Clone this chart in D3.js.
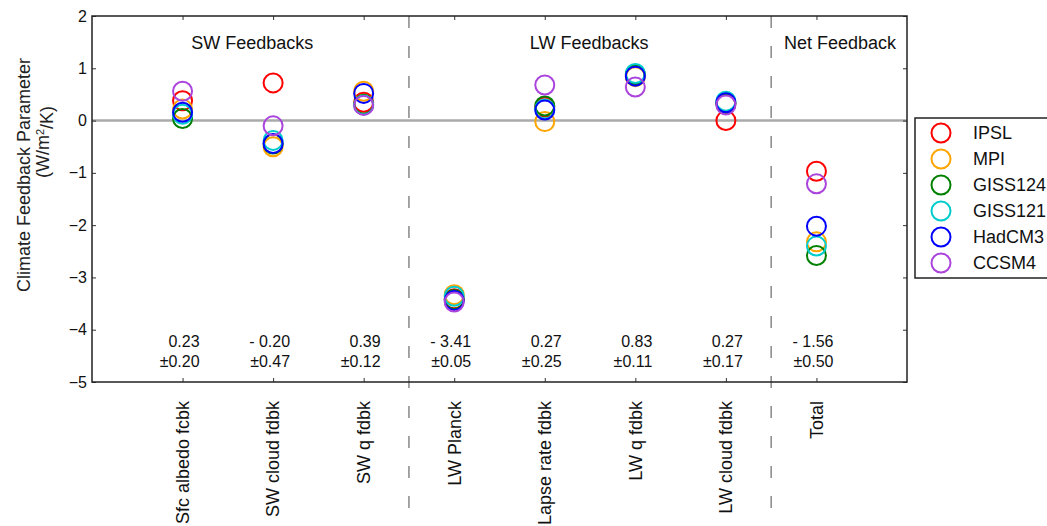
<!DOCTYPE html>
<html>
<head>
<meta charset="utf-8">
<script src="https://cdn.jsdelivr.net/npm/d3@7"></script>
<style>
  html, body { margin: 0; padding: 0; background: #fff; }
  svg { display: block; font-family: "Liberation Sans", Arial, sans-serif; }
</style>
</head>
<body>
<svg id="chart" width="1047" height="526"></svg>
<script>
const categories = ["Sfc albedo fcbk", "SW cloud fdbk", "SW q fdbk", "LW Planck",
                    "Lapse rate fdbk", "LW q fdbk", "LW cloud fdbk", "Total"];
const models = ["IPSL", "MPI", "GISS124", "GISS121", "HadCM3", "CCSM4"];
const modelColors = ["#ff0000", "#ffa500", "#008000", "#00cccc", "#0000ff", "#aa44dd"];

const IPSL    = [0.38,  0.72, 0.35, -3.41,  0.26, 0.87, 0.00, -0.97];
const MPI     = [0.22, -0.50, 0.56, -3.33, -0.02, 0.84, 0.32, -2.32];
const GISS124 = [0.04, -0.45, 0.31, -3.42,  0.28, 0.88, 0.32, -2.58];
const GISS121 = [0.12, -0.38, 0.30, -3.36,  0.22, 0.90, 0.37, -2.40];
const HadCM3  = [0.16, -0.44, 0.52, -3.44,  0.20, 0.85, 0.34, -2.02];
const CCSM4   = [0.56, -0.10, 0.29, -3.47,  0.68, 0.64, 0.30, -1.21];
const seriesValues = [IPSL, MPI, GISS124, GISS121, HadCM3, CCSM4];

const meanLabels   = ["0.23", "- 0.20", "0.39", "- 3.41", "0.27", "0.83", "0.27", "- 1.56"];
const spreadLabels = ["±0.20", "±0.47", "±0.12", "±0.05", "±0.25", "±0.11", "±0.17", "±0.50"];
const groupLabels  = ["SW Feedbacks", "LW Feedbacks", "Net Feedback"];
const groupCenters = [1.77, 5.49, 8.26];
const dividers     = [3.5, 7.5];
const yTicks       = [2, 1, 0, -1, -2, -3, -4, -5];

const svg = d3.select("#chart");
const L = 92, R = 907, T = 16, B = 382;

const x = d3.scaleLinear().domain([0, 9]).range([L, R]);
const y = d3.scaleLinear().domain([-5, 2]).range([B, T]);
const fmt = v => (v < 0 ? "\u2212" + Math.abs(v) : String(v));

// zero line
svg.append("line")
  .attr("x1", L).attr("x2", R).attr("y1", y(0)).attr("y2", y(0))
  .attr("stroke", "#aaaaaa").attr("stroke-width", 2.5);

// dashed dividers
svg.selectAll("line.div").data(dividers).enter().append("line")
  .attr("class", "div")
  .attr("x1", d => x(d)).attr("x2", d => x(d))
  .attr("y1", T).attr("y2", 526)
  .attr("stroke", "#888").attr("stroke-width", 1.5)
  .attr("stroke-dasharray", "12,18");

// axes (ticks inward)
const catTicks = d3.range(1, categories.length + 1);
svg.append("g").attr("transform", `translate(0,${B})`)
  .call(d3.axisTop(x).tickValues(catTicks).tickFormat("").tickSizeInner(4).tickSizeOuter(0))
  .call(g => g.select(".domain").remove())
  .call(g => g.selectAll("line").attr("stroke", "#333"));
svg.append("g").attr("transform", `translate(0,${T})`)
  .call(d3.axisBottom(x).tickValues(catTicks).tickFormat("").tickSizeInner(4).tickSizeOuter(0))
  .call(g => g.select(".domain").remove())
  .call(g => g.selectAll("line").attr("stroke", "#333"));
svg.append("g").attr("transform", `translate(${L},0)`)
  .call(d3.axisRight(y).tickValues(yTicks).tickFormat("").tickSizeInner(4).tickSizeOuter(0))
  .call(g => g.select(".domain").remove())
  .call(g => g.selectAll("line").attr("stroke", "#333"));
svg.append("g").attr("transform", `translate(${R},0)`)
  .call(d3.axisLeft(y).tickValues(yTicks).tickFormat("").tickSizeInner(4).tickSizeOuter(0))
  .call(g => g.select(".domain").remove())
  .call(g => g.selectAll("line").attr("stroke", "#333"));

// y tick labels
svg.selectAll("text.ytick").data(yTicks).enter().append("text")
  .attr("class", "ytick")
  .attr("x", L - 5).attr("y", d => y(d)).attr("dy", "0.35em")
  .attr("text-anchor", "end").attr("font-size", 16).attr("fill", "#111")
  .text(fmt);

// frame
svg.append("rect")
  .attr("x", L).attr("y", T).attr("width", R - L).attr("height", B - T)
  .attr("fill", "none").attr("stroke", "#222").attr("stroke-width", 1.5);

// y axis label
svg.append("text")
  .attr("transform", `translate(24,175) rotate(-90)`)
  .attr("text-anchor", "middle").attr("dy", "0.35em").attr("font-size", 18).attr("fill", "#222")
  .text("Climate Feedback Parameter");
const unit = svg.append("text")
  .attr("transform", `translate(43,142) rotate(-90)`)
  .attr("text-anchor", "middle").attr("dy", "0.35em").attr("font-size", 18).attr("fill", "#222");
unit.append("tspan").text("(W/m");
unit.append("tspan").attr("font-size", 11).attr("dy", "-0.5em").text("2");
unit.append("tspan").attr("dy", "0.5em").text("/K)");

// group labels
svg.selectAll("text.grp").data(groupLabels).enter().append("text")
  .attr("class", "grp")
  .attr("x", (d, i) => x(groupCenters[i])).attr("y", 49)
  .attr("text-anchor", "middle").attr("font-size", 18).attr("fill", "#111")
  .text(d => d);

// mean / spread labels
svg.selectAll("text.mean").data(meanLabels).enter().append("text")
  .attr("class", "mean")
  .attr("x", (d, i) => x(i + 1) + 17).attr("y", 347)
  .attr("text-anchor", "end").attr("font-size", 16).attr("fill", "#111")
  .text(d => d);
svg.selectAll("text.spread").data(spreadLabels).enter().append("text")
  .attr("class", "spread")
  .attr("x", (d, i) => x(i + 1) + 17).attr("y", 367)
  .attr("text-anchor", "end").attr("font-size", 16).attr("fill", "#111")
  .text(d => d);

// category labels
svg.selectAll("text.cat").data(categories).enter().append("text")
  .attr("class", "cat")
  .attr("transform", (d, i) => `translate(${x(i + 1)},401) rotate(-90)`)
  .attr("text-anchor", "end").attr("dy", "0.35em").attr("font-size", 18).attr("fill", "#111")
  .text(d => d);

// points
models.forEach((m, mi) => {
  svg.append("g").selectAll("circle").data(seriesValues[mi]).enter().append("circle")
    .attr("cx", (d, i) => x(i + 1)).attr("cy", d => y(d)).attr("r", 9.5)
    .attr("fill", "none").attr("stroke", modelColors[mi]).attr("stroke-width", 2);
});

// legend
const lg = svg.append("g");
lg.append("rect").attr("x", 915).attr("y", 118).attr("width", 200).attr("height", 160)
  .attr("fill", "#fff").attr("stroke", "#222").attr("stroke-width", 1.5);
const ly = d3.scalePoint().domain(models).range([133, 263]);
lg.selectAll("circle").data(models).enter().append("circle")
  .attr("cx", 941).attr("cy", d => ly(d)).attr("r", 9.5)
  .attr("fill", "none").attr("stroke", (d, i) => modelColors[i]).attr("stroke-width", 2);
lg.selectAll("text").data(models).enter().append("text")
  .attr("x", 973).attr("y", d => ly(d)).attr("dy", "0.35em")
  .attr("font-size", 18).attr("fill", "#111")
  .text(d => d);
</script>
</body>
</html>
